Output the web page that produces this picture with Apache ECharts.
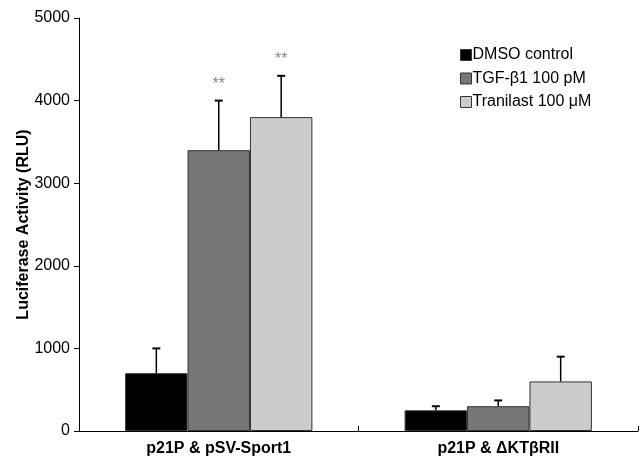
<!DOCTYPE html>
<html><head><meta charset="utf-8">
<script src="https://cdn.jsdelivr.net/npm/echarts@6/dist/echarts.min.js"></script>
<style>html,body{margin:0;padding:0;background:#fff}#c{width:640px;height:461px}</style>
</head><body><div id="c"></div>
<script>
const categories = ['p21P & pSV-Sport1', 'p21P & \u0394KT\u03b2RII'];
const seriesNames = ['DMSO control', 'TGF-\u03b21 100 pM', 'Tranilast 100 \u03bcM'];
const dmso = [700, 250];
const tgf = [3400, 300];
const tranilast = [3800, 600];
const dmsoErr = [300, 50];
const tgfErr = [600, 70];
const tranilastErr = [500, 300];
const dmsoSig = ['', ''];
const tgfSig = ['**', ''];
const tranilastSig = ['**', ''];
const yTicks = [0, 1000, 2000, 3000, 4000, 5000];

const colors = ['#000000', '#777777', '#cccccc'];
const values = [dmso, tgf, tranilast];
const errs = [dmsoErr, tgfErr, tranilastErr];
const sigs = [dmsoSig, tgfSig, tranilastSig];
const gapFrac = 0.33;
const FONT = '"Liberation Sans", Arial, sans-serif';

const chart = echarts.init(document.getElementById('c'));
const series = [];
values.forEach((v, i) => {
  series.push({
    name: seriesNames[i], type: 'bar', data: v,
    barGap: 0, barCategoryGap: (gapFrac * 100) + '%',
    itemStyle: { color: colors[i], borderColor: '#333', borderWidth: 1 },
    silent: true
  });
});
values.forEach((v, i) => {
  series.push({
    type: 'custom', silent: true, z: 5,
    data: v.map((val, k) => [k, val, errs[i][k]]),
    renderItem: function (params, api) {
      const cat = api.value(0), val = api.value(1), e = api.value(2);
      const sig = sigs[i][cat];
      const band = api.size([1, 0])[0];
      const w = band * (1 - gapFrac) / 3;
      const base = api.coord([cat, val]);
      const top = api.coord([cat, val + e]);
      const x = base[0] + (i - 1) * w;
      const children = [
        { type: 'line', shape: { x1: x, y1: base[1], x2: x, y2: top[1] }, style: { stroke: '#000', lineWidth: 1.5 } },
        { type: 'line', shape: { x1: x - 4, y1: top[1], x2: x + 4, y2: top[1] }, style: { stroke: '#000', lineWidth: 2 } }
      ];
      if (sig) {
        children.push({ type: 'text', style: { text: sig, x: x, y: top[1] - 16, align: 'center', verticalAlign: 'middle', fill: '#888', font: '16px ' + FONT } });
      }
      return { type: 'group', children: children };
    }
  });
});

chart.setOption({
  animation: false,
  backgroundColor: '#fff',
  textStyle: { fontFamily: FONT },
  grid: { left: 79, right: 2, top: 18, bottom: 30, containLabel: false },
  legend: {
    orient: 'vertical', left: 455, top: 42, itemGap: 7.5,
    itemWidth: 11, itemHeight: 11, icon: 'rect',
    data: seriesNames,
    itemStyle: { borderColor: '#333', borderWidth: 1 },
    textStyle: { fontSize: 16, lineHeight: 16, color: '#000', padding: [0, 0, 0, -4] }
  },
  xAxis: {
    type: 'category', data: categories,
    axisLine: { lineStyle: { color: '#000', width: 1 } },
    axisTick: { show: true, inside: true, length: 5, lineStyle: { color: '#000' } },
    axisLabel: { fontSize: 16, fontWeight: 'bold', color: '#000', margin: 10 }
  },
  yAxis: {
    type: 'value', min: 0, max: 5000, interval: 1000,
    name: 'Luciferase Activity (RLU)', nameLocation: 'middle', nameGap: 47,
    nameMoveOverlap: false,
    nameTextStyle: { fontSize: 16, fontWeight: 'bold', color: '#000' },
    axisLine: { show: true, lineStyle: { color: '#000', width: 1 } },
    axisTick: { show: true, length: 5, lineStyle: { color: '#000' } },
    splitLine: { show: false },
    axisLabel: { fontSize: 16, color: '#000', margin: 9,
      formatter: v => yTicks.includes(v) ? String(v) : '' }
  },
  series: series
});
</script></body></html>
